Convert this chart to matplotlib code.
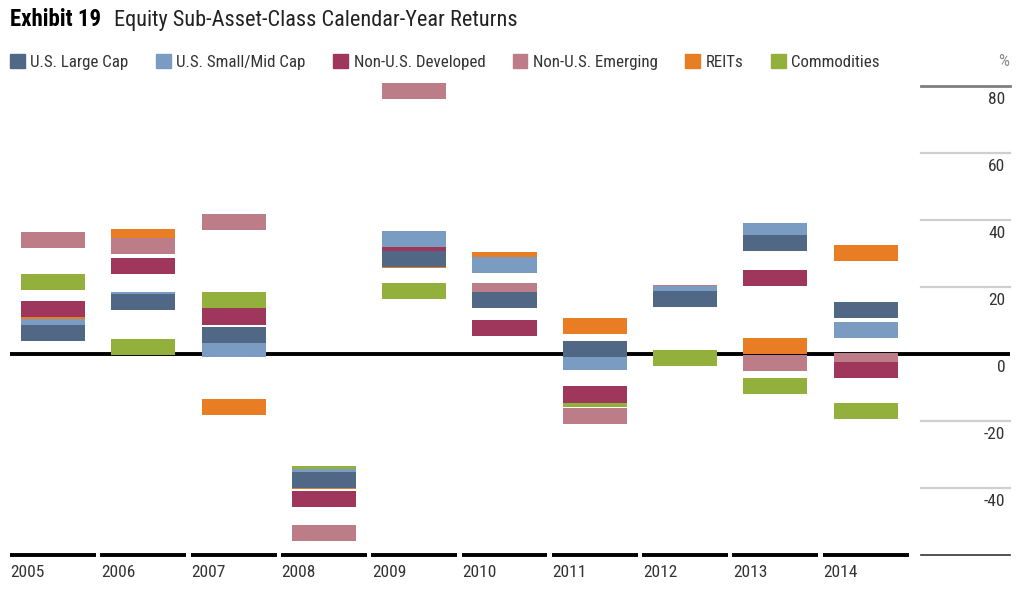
import matplotlib.pyplot as plt
from matplotlib.patches import Patch

plt.rcParams['font.family'] = ['Roboto Condensed', 'DejaVu Sans']

# data (calendar-year returns, %)
years = ["2005", "2006", "2007", "2008", "2009", "2010", "2011", "2012", "2013", "2014"]
series = ["U.S. Large Cap", "U.S. Small/Mid Cap", "Non-U.S. Developed",
          "Non-U.S. Emerging", "REITs", "Commodities"]
large_cap = [6.3, 15.5, 5.8, -37.6, 28.4, 16.1, 1.5, 16.4, 33.1, 13.2]
small_mid = [8.1, 16.2, 1.4, -36.8, 34.4, 26.7, -2.5, 17.9, 36.8, 7.1]
non_us_dev = [13.5, 26.3, 11.2, -43.4, 31.8, 7.8, -12.1, 17.3, 22.8, -4.9]
non_us_em = [34.0, 32.2, 39.4, -53.3, 78.5, 18.9, -18.4, 18.2, -2.6, -2.2]
reits = [12.2, 35.0, -15.8, -38.0, 28.0, 28.0, 8.4, 17.8, 2.4, 30.2]
commodities = [21.4, 2.1, 16.2, -35.7, 18.9, 16.8, -13.3, -1.1, -9.5, -17.0]
y_ticks = [80, 60, 40, 20, 0, -20, -40]

values = [large_cap, small_mid, non_us_dev, non_us_em, reits, commodities]
colors = ["#506786", "#7a9cc3", "#9f365c", "#bc7d88", "#e87d24", "#93b03d"]

fig = plt.figure(figsize=(10.25, 5.99), dpi=100)
ax = fig.add_axes([10 / 1025, 44 / 599, 1000 / 1025, 469 / 599])
ax.set_xlim(-0.476, 10.598)
ax.set_ylim(-60, 80)
ax.axis("off")

x = list(range(len(years)))
thick = 4.8

# zero line under the bars
ax.axhline(0, color="black", lw=2.8, zorder=1)

# floating bars, large cap drawn last (on top)
for i, (vals, c) in enumerate(zip(values, colors)):
    ax.bar(x, [thick] * len(vals), bottom=[v - thick / 2 for v in vals],
           width=0.71, color=c, zorder=10 - i, clip_on=False)

# right-side gridlines and labels
for v in y_ticks + [-60]:
    if v == 80:
        col, lw = "#7f7f7f", 2.0
    elif v == -60:
        col, lw = "#333333", 1.2
    elif v == 0:
        continue
    else:
        col, lw = "#cfcfcf", 1.6
    ax.plot([9.612, 10.598], [v, v], color=col, lw=lw, clip_on=False, zorder=1)
for v in y_ticks:
    ax.annotate(str(v), xy=(10.545, v), xytext=(0, -4), textcoords="offset points",
                ha="right", va="top", fontsize=12.5, color="#333333")

# year segments along bottom
for i, yr in enumerate(years):
    ax.plot([i - 0.476, i + 0.476], [-60, -60], color="black", lw=2.8,
            solid_capstyle="butt", clip_on=False)
    ax.annotate(yr, xy=(i - 0.476, -60), xytext=(0.5, -7), textcoords="offset points",
                ha="left", va="top", fontsize=12.5, color="#333333")

# title
fig.text(10 / 1025, 1 - 26 / 599, "Exhibit 19", fontsize=16.5, fontweight="bold",
         va="baseline", ha="left")
fig.text(114 / 1025, 1 - 26 / 599, "Equity Sub-Asset-Class Calendar-Year Returns",
         fontsize=16, va="baseline", ha="left", color="#222222")

# legend
handles = [Patch(color=c, label=s) for s, c in zip(series, colors)]
fig.legend(handles=handles, loc="center left", bbox_to_anchor=(10 / 1025, 1 - 62 / 599),
           ncol=6, frameon=False, fontsize=12.2, handlelength=0.87, handleheight=0.87,
           handletextpad=0.33, columnspacing=1.62, labelcolor="#333333",
           borderaxespad=0, borderpad=0)

fig.text(1009 / 1025, 1 - 62 / 599, "%", fontsize=12.5, color="#8a8a8a",
         ha="right", va="center")

fig.savefig("out.png", dpi=100)
